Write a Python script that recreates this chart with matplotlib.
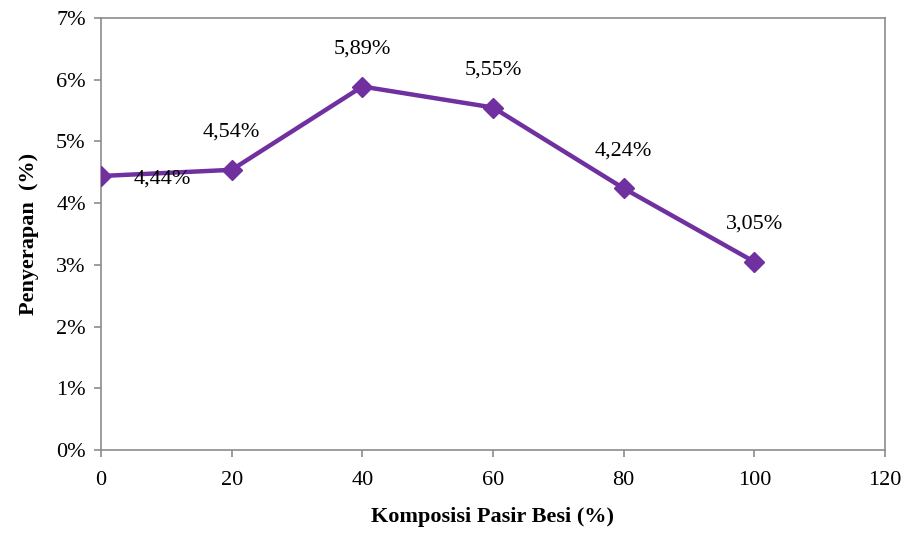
import matplotlib.pyplot as plt
from matplotlib.ticker import FuncFormatter

komposisi = [0, 20, 40, 60, 80, 100]
penyerapan = [4.44, 4.54, 5.89, 5.55, 4.24, 3.05]
label_teks = ['4,44%', '4,54%', '5,89%', '5,55%', '4,24%', '3,05%']

plt.rcParams['font.family'] = ['Liberation Serif', 'DejaVu Serif']

fig = plt.figure(figsize=(9.07, 5.33), dpi=100)
ax = fig.add_axes([0.1114, 0.1557, 0.8643, 0.8105])

ax.plot(komposisi, penyerapan, color='#7030A0', linewidth=3.2,
        marker='D', markersize=10, zorder=3)

for i in range(len(komposisi)):
    if i == 0:
        ax.annotate(label_teks[i], (komposisi[i], penyerapan[i]), xytext=(44, -2),
                    textcoords='offset points', ha='center', va='center', fontsize=16)
    else:
        ax.annotate(label_teks[i], (komposisi[i], penyerapan[i]), xytext=(0, 27),
                    textcoords='offset points', ha='center', va='center', fontsize=16)

ax.set_xlim(0, 120)
ax.set_ylim(0, 7)
ax.set_xticks([0, 20, 40, 60, 80, 100, 120])
ax.set_yticks(range(0, 8))
ax.yaxis.set_major_formatter(FuncFormatter(lambda v, p: '%d%%' % v))

for s in ax.spines.values():
    s.set_color('#8c8c8c')
    s.set_linewidth(1.2)
ax.tick_params(colors='#8c8c8c', labelcolor='black', labelsize=16, length=5, width=1.2)
ax.tick_params(axis='x', pad=10)
ax.tick_params(axis='y', pad=6)

ax.set_xlabel('Komposisi Pasir Besi (%)', fontsize=16, fontweight='bold', labelpad=12)
ax.set_ylabel('Penyerapan  (%)', fontsize=16, fontweight='bold', labelpad=12)

fig.savefig('out.png', dpi=100)
